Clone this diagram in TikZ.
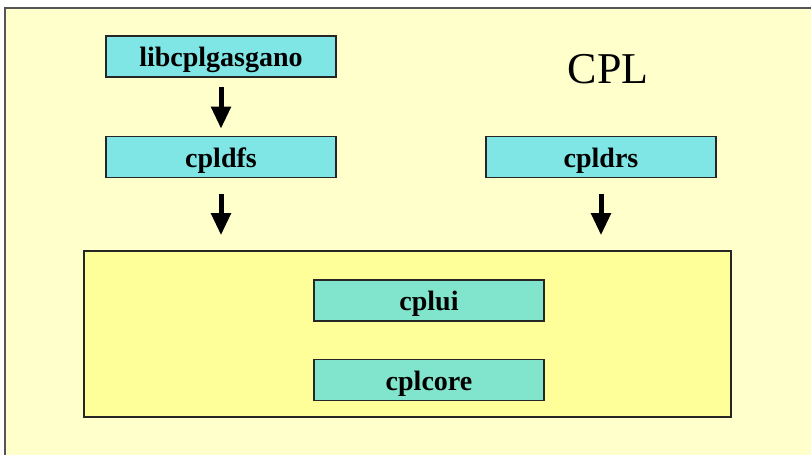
\documentclass[tikz,border=0pt]{standalone}
\usepackage{fontspec}
\setmainfont{Liberation Serif}
\usetikzlibrary{arrows.meta}
\definecolor{slidebg}{HTML}{FFFFCC}
\definecolor{groupfill}{HTML}{FFFF99}
\definecolor{cyanbox}{HTML}{80E5E5}
\definecolor{tealbox}{HTML}{80E5CC}
\definecolor{frameline}{HTML}{555555}
\tikzset{
  libbox/.style={draw=black!85, line width=1.6pt, fill=cyanbox,
    minimum width=230pt, minimum height=41pt, inner sep=0pt,
    text height=20pt, text depth=0pt,
    font=\fontsize{28}{28}\selectfont\bfseries},
  corebox/.style={libbox, fill=tealbox},
  grouprect/.style={draw=black!85, line width=1.6pt, fill=groupfill,
    minimum width=647pt, minimum height=166pt, inner sep=0pt},
  deparrow/.style={line width=5pt, -{Triangle[width=19pt,length=22pt]}},
}
\begin{document}
\begin{tikzpicture}[x=1pt,y=-1pt]
  \useasboundingbox (0,0) rectangle (811,455);
  % slide background and its frame
  \fill[white] (0,0) rectangle (811,455);
  \fill[slidebg] (5,8) rectangle (811,455);
  \draw[frameline, line width=2pt] (5,455) -- (5,8) -- (811,8);

  % title
  \node (title) at (608,69) {\fontsize{44}{44}\selectfont CPL};

  % libraries
  \node[libbox] (gasgano) at (221,56.5) {libcplgasgano};
  \node[libbox] (dfs) at (221,157) {cpldfs};
  \node[libbox] (drs) at (601,157) {cpldrs};

  % core group
  \node[grouprect] (group) at (407.5,334) {};
  \node[corebox] (ui) at (429,300.5) {cplui};
  \node[corebox] (core) at (429,380) {cplcore};

  % dependencies
  \draw[deparrow, shorten <=9pt, shorten >=7pt] (gasgano.south -| 221,0) -- (dfs.north -| 221,0);
  \draw[deparrow, shorten <=16pt, shorten >=15pt] (dfs.south -| 221,0) -- (group.north -| 221,0);
  \draw[deparrow, shorten <=16pt, shorten >=15pt] (drs.south) -- (group.north -| drs.south);
\end{tikzpicture}
\end{document}
